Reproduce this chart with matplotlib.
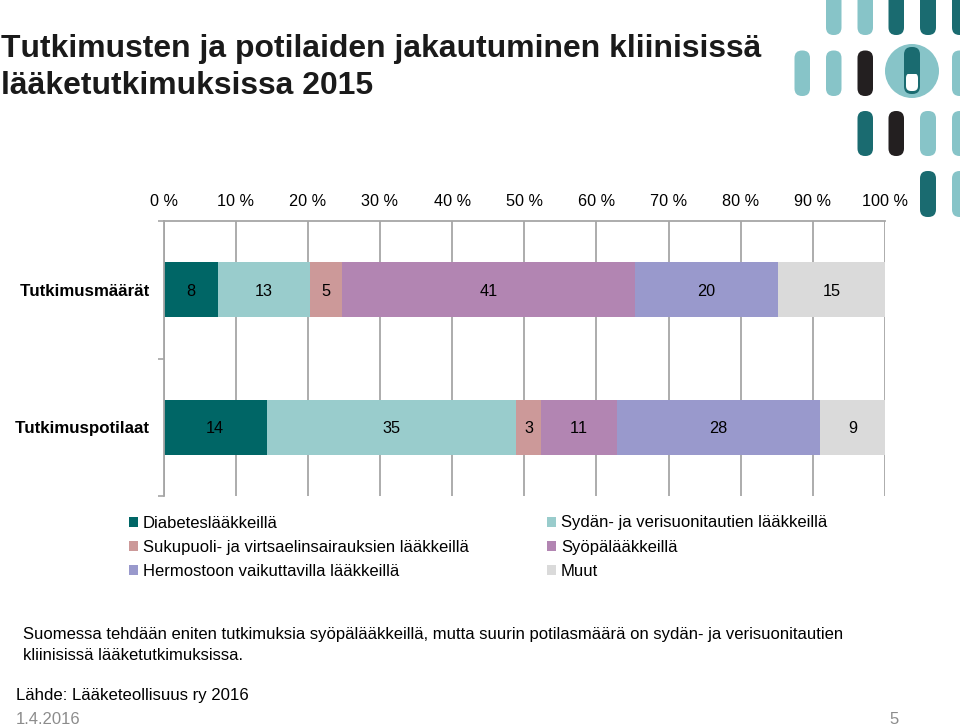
import matplotlib
matplotlib.use("Agg")
import matplotlib.pyplot as plt
from matplotlib.patches import FancyBboxPatch, Circle, Rectangle
import numpy as np

plt.rcParams['font.family'] = ['Liberation Sans', 'DejaVu Sans']
plt.rcParams['text.kerning_factor'] = 6

categories = ['Tutkimusmäärät', 'Tutkimuspotilaat']
series_names = ['Diabeteslääkkeillä', 'Sydän- ja verisuonitautien lääkkeillä',
                'Sukupuoli- ja virtsaelinsairauksien lääkkeillä', 'Syöpälääkkeillä',
                'Hermostoon vaikuttavilla lääkkeillä', 'Muut']
series_values = [[7.6, 14.3], [12.7, 34.6], [4.51, 3.4], [40.6, 10.6], [19.7, 28.1], [14.9, 9.0]]
series_colors = ['#006666', '#99CCCC', '#CC9999', '#B285B2', '#9999CC', '#DADADA']
xticks = list(range(0, 101, 10))
xticklabels = [f'{t} %' for t in xticks]

W, H = 960, 727
fig = plt.figure(figsize=(W / 100, H / 100), dpi=100)

bg = fig.add_axes([0, 0, 1, 1])
bg.set_xlim(0, W); bg.set_ylim(H, 0); bg.axis('off')

LIGHT, TEAL, BLACK = '#87C4C8', '#1A6B70', '#231F20'
pills = [
    (826, -20, 841.5, 35, LIGHT), (857.5, -20, 873, 35, LIGHT), (888.5, -20, 904, 35, TEAL),
    (920, -20, 936, 35, TEAL), (952, -20, 968, 35, TEAL),
    (794.5, 50.5, 810, 96, LIGHT), (826, 50.5, 841.5, 96, LIGHT), (857.5, 50.5, 873, 96, BLACK),
    (952, 50.5, 968, 96, LIGHT),
    (857.5, 111, 873, 156, TEAL), (888.5, 111, 904, 156, BLACK), (920, 111, 936, 156, LIGHT),
    (952, 111, 968, 156, LIGHT),
    (920, 171, 936, 217, TEAL), (952, 171, 968, 217, LIGHT),
]
for x0, y0, x1, y1, c in pills:
    bg.add_patch(FancyBboxPatch((x0 + 7.5, y0 + 7.5), x1 - x0 - 15, y1 - y0 - 15,
                                boxstyle='round,pad=7.5,rounding_size=7.5', fc=c, ec='none'))
bg.add_patch(Circle((912, 71), 27, fc=LIGHT, ec='none'))
bg.add_patch(FancyBboxPatch((911.5, 54.5), 1, 32, boxstyle='round,pad=7.5,rounding_size=7.5', fc=TEAL, ec='none'))
bg.add_patch(FancyBboxPatch((911, 78), 2, 8, boxstyle='round,pad=5,rounding_size=5', fc='white', ec='none'))
bg.add_patch(Rectangle((904.5, 64), 15, 9.5, fc=TEAL, ec='none'))

fig.text(1 / W, 1 - 56.5 / H, 'Tutkimusten ja potilaiden jakautuminen kliinisissä', fontsize=22.95,
         fontweight='bold', color='#1a1a1a')
fig.text(1 / W, 1 - 93.5 / H, 'lääketutkimuksissa 2015', fontsize=22.95, fontweight='bold', color='#1a1a1a')

left, right, top, bottom = 163.5, 885, 221, 496
ax = fig.add_axes([left / W, 1 - bottom / H, (right - left) / W, (bottom - top) / H])
ax.patch.set_alpha(0)
ax.set_xlim(0, 100); ax.set_ylim(1.5, -0.5)
ypos = np.arange(len(categories))
totals = np.sum(series_values, axis=0)
cum = np.zeros(len(categories))
ax.xaxis.grid(True, color='#A6A6A6', lw=1.3); ax.set_axisbelow(True)
for name, vals, c in zip(series_names, series_values, series_colors):
    pct = np.array(vals) / totals * 100
    ax.barh(ypos, pct, left=cum, height=0.4, color=c, label=name)
    for y, v, p, l in zip(ypos, vals, pct, cum):
        ax.text(l + p / 2, y + 0.01, f'{v:.0f}', ha='center', va='center', fontsize=11.7, color='black')
    cum += pct
ax.xaxis.tick_top()
ax.set_xticks(xticks); ax.set_xticklabels(xticklabels, fontsize=11.7, color='black')
ax.tick_params(axis='x', length=0, pad=8.5)
ax.set_yticks([-0.5, 0.5, 1.5]); ax.set_yticklabels([])
ax.tick_params(axis='y', length=4, color='#A6A6A6', width=1.2)
for y, cat in zip(ypos, categories):
    ax.text(-1.87, y + 0.01, cat, ha='right', va='center', fontsize=12.2, fontweight='bold', color='black')
for s in ['right', 'bottom']:
    ax.spines[s].set_visible(False)
for s in ['top', 'left']:
    ax.spines[s].set_color('#A6A6A6'); ax.spines[s].set_linewidth(1.3)

handles, labels = ax.get_legend_handles_labels()
order = [0, 2, 4, 1, 3, 5]
fig.legend([handles[i] for i in order], [labels[i] for i in order], loc='upper left',
           bbox_to_anchor=(113.5 / W, 1 - 500.5 / H), ncol=2, frameon=False, fontsize=12,
           handlelength=0.55, handleheight=0.55, handletextpad=0.3, columnspacing=4.7,
           labelspacing=0.56, labelcolor='black')

fig.text(23 / W, 1 - 639 / H, 'Suomessa tehdään eniten tutkimuksia syöpälääkkeillä, mutta suurin potilasmäärä on sydän- ja verisuonitautien',
         fontsize=12, color='black')
fig.text(23 / W, 1 - 660 / H, 'kliinisissä lääketutkimuksissa.', fontsize=12, color='black')
fig.text(15.5 / W, 1 - 700 / H, 'Lähde: Lääketeollisuus ry 2016', fontsize=12.1, color='black')
fig.text(16 / W, 1 - 723.5 / H, '1.4.2016', fontsize=12, color='#8c8c8c')
fig.text(899 / W, 1 - 723.5 / H, '5', fontsize=12, color='#8c8c8c', ha='right')

fig.savefig('out.png', dpi=100)
